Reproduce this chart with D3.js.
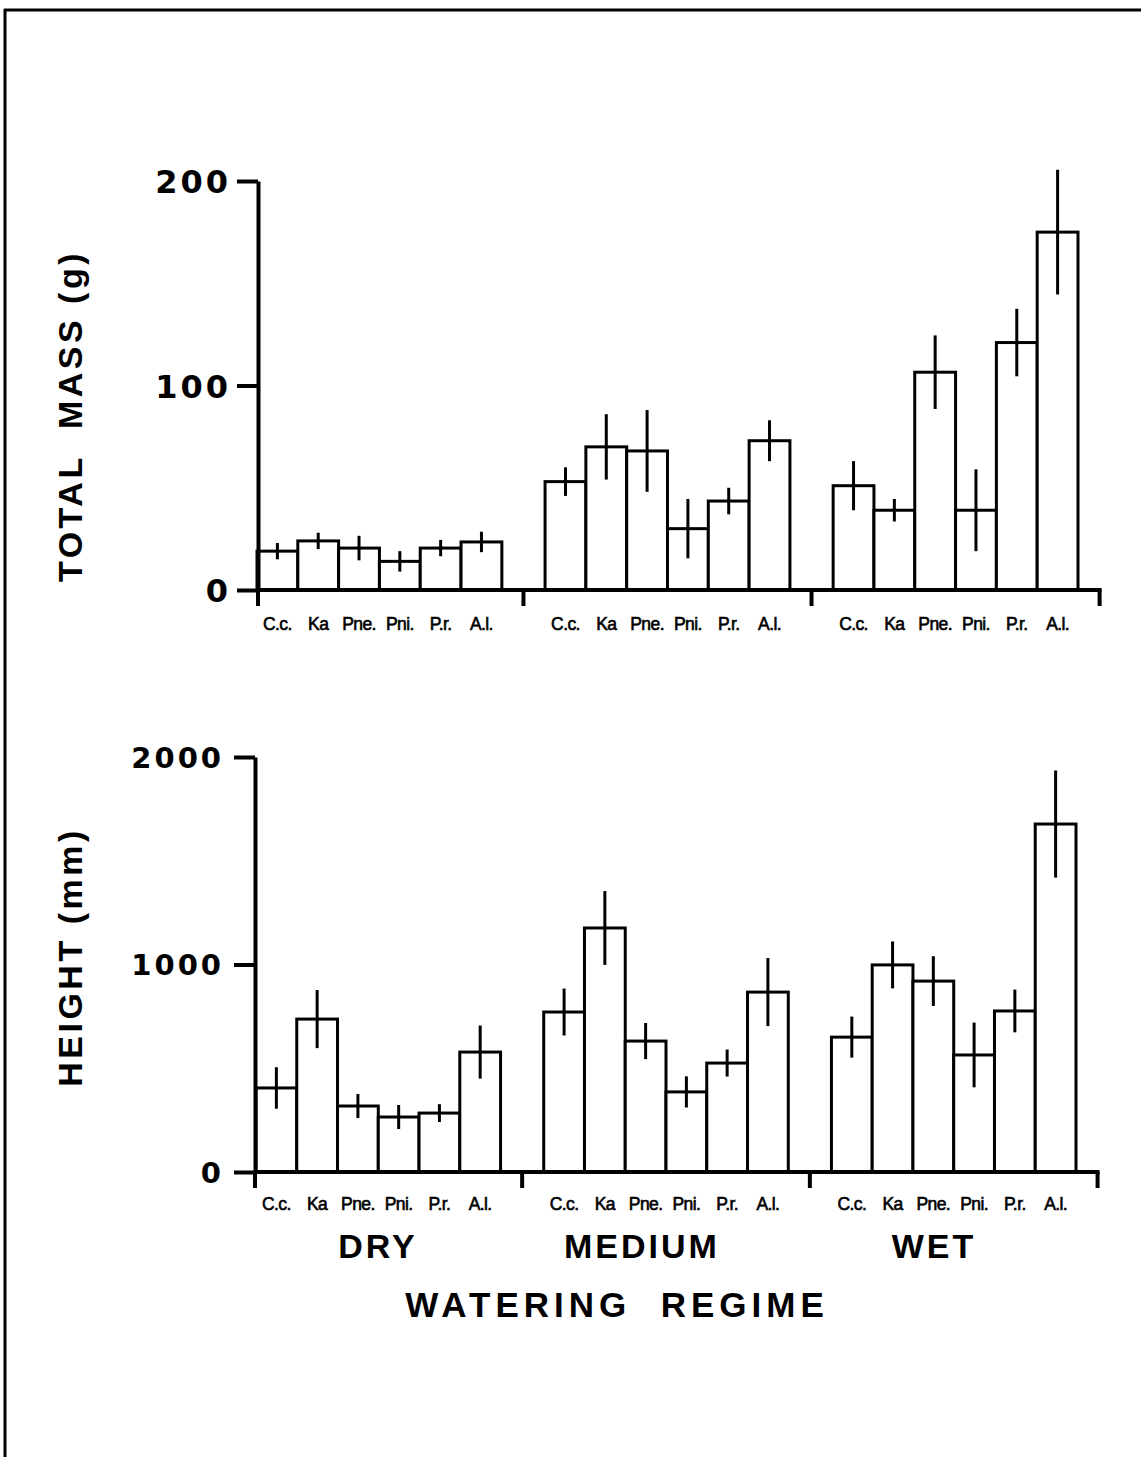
<!DOCTYPE html>
<html>
<head>
<meta charset="utf-8">
<script src="https://cdn.jsdelivr.net/npm/d3@7"></script>
<style>
  html, body { margin: 0; padding: 0; background: #fff; }
  svg { display: block; }
</style>
</head>
<body>
<script>
// Watering regimes and species (abbreviations as printed under the bars)
const groups = ["DRY", "MEDIUM", "WET"];
const species = ["C.c.", "Ka", "Pne.", "Pni.", "P.r.", "A.l."];

// Total mass (g): means and error half-widths, one row per regime
const massMean = [
  [19, 24, 20.5, 14, 20.5, 23.5],
  [53, 70, 68, 30, 43.5, 73],
  [51, 39, 106.5, 39, 121, 175]
];
const massErr = [
  [4, 4, 6, 5, 4, 5],
  [7, 16, 20, 14.5, 6.5, 10],
  [12, 5.5, 18, 20, 16.5, 30.5]
];

// Height (mm): means and error half-widths
const heightMean = [
  [405, 737, 318, 265, 284, 578],
  [771, 1176, 631, 386, 525, 867],
  [650, 998, 920, 564, 776, 1677]
];
const heightErr = [
  [100, 140, 58, 58, 43, 128],
  [113, 178, 87, 75, 65, 164],
  [99, 113, 120, 156, 103, 258]
];

const massTicks = [0, 100, 200];
const heightTicks = [0, 1000, 2000];

const W = 1141, H = 1457;
const svg = d3.select("body").append("svg")
  .attr("width", W).attr("height", H);

// page frame (top and left edges)
svg.append("line").attr("x1", 4).attr("x2", W).attr("y1", 10).attr("y2", 10)
  .attr("stroke", "#000").attr("stroke-width", 3);
svg.append("line").attr("x1", 5).attr("x2", 5).attr("y1", 9).attr("y2", H)
  .attr("stroke", "#000").attr("stroke-width", 3);

const panels = [
  { title: "TOTAL  MASS (g)", mean: massMean, err: massErr, ticks: massTicks,
    domain: [0, 200], yRange: [590, 181], axisX: 258, xRange: [257, 1078],
    tickFont: 32, tickPad: 6, labelY: 630, titleY: 416 },
  { title: "HEIGHT (mm)", mean: heightMean, err: heightErr, ticks: heightTicks,
    domain: [0, 2000], yRange: [1172, 757], axisX: 255, xRange: [256, 1076],
    tickFont: 29, tickPad: 10, labelY: 1210, titleY: 957 }
];

panels.forEach(p => {
  const g = svg.append("g");
  const y = d3.scaleLinear().domain(p.domain).range(p.yRange);
  const x0 = d3.scaleBand().domain(groups).range(p.xRange)
    .paddingInner(0.15).paddingOuter(0);
  const x1 = d3.scaleBand().domain(species).range([0, x0.bandwidth()]).padding(0);
  const gap = x0.step() * x0.paddingInner();

  // bars, error bars and species labels
  groups.forEach((grp, gi) => {
    const gg = g.append("g").attr("transform", `translate(${x0(grp)},0)`);
    const rows = species.map((s, si) => ({ s, v: p.mean[gi][si], e: p.err[gi][si] }));
    gg.selectAll("rect").data(rows).join("rect")
      .attr("x", d => x1(d.s))
      .attr("y", d => y(d.v))
      .attr("width", x1.bandwidth())
      .attr("height", d => y(0) - y(d.v))
      .attr("fill", "#fff")
      .attr("stroke", "#000")
      .attr("stroke-width", 3);
    gg.selectAll("line.err").data(rows).join("line")
      .attr("class", "err")
      .attr("x1", d => x1(d.s) + x1.bandwidth() / 2)
      .attr("x2", d => x1(d.s) + x1.bandwidth() / 2)
      .attr("y1", d => y(d.v + d.e))
      .attr("y2", d => y(d.v - d.e))
      .attr("stroke", "#000")
      .attr("stroke-width", 3);
    gg.selectAll("text.sp").data(rows).join("text")
      .attr("class", "sp")
      .attr("x", d => x1(d.s) + x1.bandwidth() / 2)
      .attr("y", p.labelY)
      .attr("text-anchor", "middle")
      .attr("font-family", "Liberation Sans, Arial, sans-serif")
      .attr("font-size", 17.5)
      .attr("letter-spacing", -0.6)
      .attr("stroke", "#000").attr("stroke-width", 0.6)
      .attr("fill", "#000")
      .text(d => d.s);
  });

  // x axis: baseline with downward ticks separating the regimes
  const endX = x0(groups[2]) + x0.bandwidth() + gap / 2;
  const seps = [p.axisX,
    x0(groups[0]) + x0.bandwidth() + gap / 2,
    x0(groups[1]) + x0.bandwidth() + gap / 2,
    endX];
  g.append("line")
    .attr("x1", p.axisX).attr("x2", endX + 2)
    .attr("y1", y(0)).attr("y2", y(0))
    .attr("stroke", "#000").attr("stroke-width", 4);
  g.selectAll("line.sep").data(seps).join("line")
    .attr("class", "sep")
    .attr("x1", d => d).attr("x2", d => d)
    .attr("y1", y(0)).attr("y2", y(0) + 16)
    .attr("stroke", "#000").attr("stroke-width", 4);

  // y axis
  const ax = g.append("g")
    .attr("transform", `translate(${p.axisX},0)`)
    .call(d3.axisLeft(y).tickValues(p.ticks).tickSize(21)
      .tickSizeOuter(0).tickPadding(p.tickPad).tickFormat(d3.format("d")));
  ax.select(".domain").attr("stroke-width", 4);
  ax.selectAll(".tick line").attr("stroke-width", 4);
  ax.selectAll(".tick text")
    .attr("font-family", "DejaVu Sans, sans-serif")
    .attr("font-weight", "bold")
    .attr("font-size", p.tickFont)
    .attr("letter-spacing", 3)
    .attr("dy", "0.36em")
    .attr("fill", "#000");

  // y title
  svg.append("text")
    .attr("transform", `translate(82,${p.titleY}) rotate(-90)`)
    .attr("text-anchor", "middle")
    .attr("font-family", "Liberation Sans, Arial, sans-serif")
    .attr("font-weight", "bold")
    .attr("font-size", 34)
    .attr("letter-spacing", 3.5)
    .style("white-space", "pre")
    .text(p.title);
});

// regime names and x title
const groupLabelX = [378, 642, 934];
svg.selectAll("text.grp").data(groups).join("text")
  .attr("class", "grp")
  .attr("x", (d, i) => groupLabelX[i])
  .attr("y", 1258)
  .attr("text-anchor", "middle")
  .attr("font-family", "Liberation Sans, Arial, sans-serif")
  .attr("font-weight", "bold")
  .attr("font-size", 34)
  .attr("letter-spacing", 3)
  .text(d => d);

svg.append("text")
  .attr("x", 617).attr("y", 1317)
  .attr("text-anchor", "middle")
  .attr("font-family", "Liberation Sans, Arial, sans-serif")
  .attr("font-weight", "bold")
  .attr("font-size", 35)
  .attr("letter-spacing", 5)
  .style("white-space", "pre")
  .text("WATERING  REGIME");
</script>
</body>
</html>
